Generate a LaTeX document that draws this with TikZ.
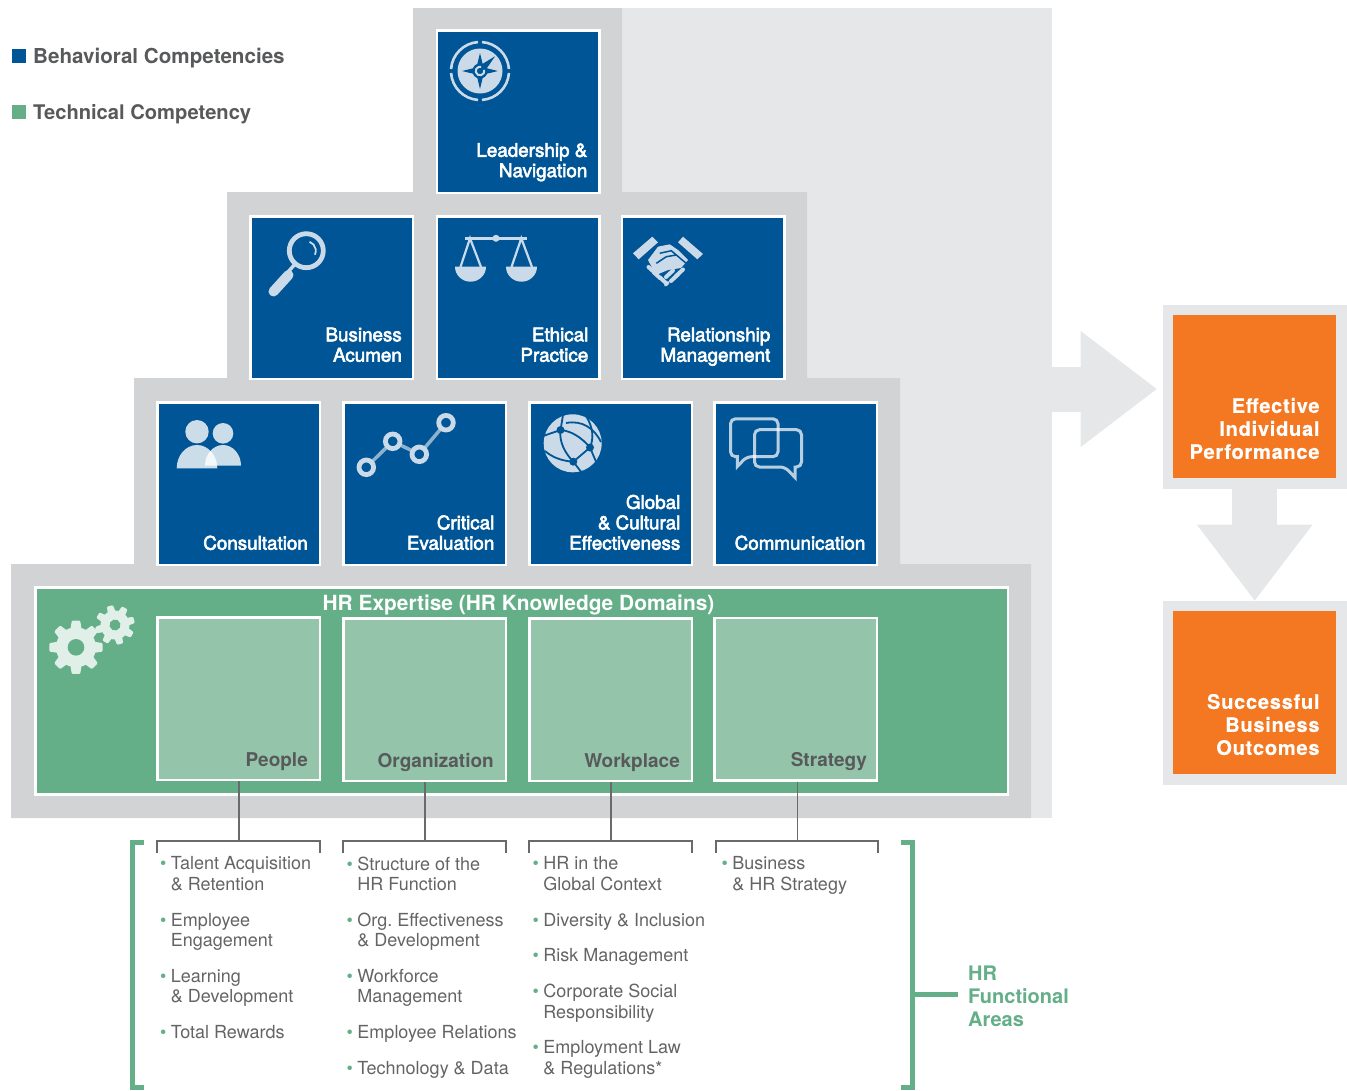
\documentclass[tikz,border=0pt]{standalone}
\usepackage{fontspec}
\setmainfont{TeX Gyre Heros}
\newfontfamily\tilefont[FakeBold=3]{TeX Gyre Heros}
\newfontfamily\heavyfont[FakeBold=0.3,LetterSpace=3.5]{TeX Gyre Heros Bold}
\usetikzlibrary{arrows.meta,positioning}
\definecolor{tileblue}{HTML}{005596}
\definecolor{hrgreen}{HTML}{64AE88}
\definecolor{palegreen}{HTML}{94C4AA}
\definecolor{pyramidgray}{HTML}{D1D3D4}
\definecolor{panelgray}{HTML}{E6E7E8}
\definecolor{resultorange}{HTML}{F47721}
\definecolor{labelgray}{HTML}{58595B}
\definecolor{listgray}{HTML}{636466}
\definecolor{icontint}{HTML}{CBDAE8}
\definecolor{geartint}{HTML}{E1EFE9}
\tikzset{tile node/.style={rectangle, draw=white, fill=tileblue, line width=2.5pt, minimum size=162.5pt, inner sep=0pt}}
\tikzset{domain node/.style={tile node, fill=palegreen}}
\tikzset{result node/.style={rectangle, draw=panelgray, fill=resultorange, line width=10.5pt, minimum size=173.5pt, inner sep=0pt}}
\tikzset{tile text/.style={anchor=south east, align=right, text=white, inner xsep=13pt, inner ysep=10pt,
    font=\tilefont\fontsize{18.8}{20.4}\selectfont, execute at end node=\strut}}
\tikzset{domain text/.style={tile text, text=labelgray, inner ysep=8.5pt, font=\bfseries\fontsize{19}{20.4}\selectfont}}
\tikzset{result text/.style={anchor=south east, align=right, text=white, inner xsep=27pt, inner ysep=22.5pt,
    font=\heavyfont\fontsize{20.1}{23}\selectfont, execute at end node=\strut}}
\tikzset{legend text/.style={anchor=west, inner sep=0pt, text=labelgray, font=\bfseries\fontsize{20.6}{22}\selectfont}}
\tikzset{area list/.style={anchor=north west, align=left, inner sep=0pt, text=listgray, font=\fontsize{18}{20.4}\selectfont}}
\tikzset{regular edge/.style={draw=labelgray!90, line width=1.4pt}}
\tikzset{bracket edge/.style={draw=hrgreen, line width=5pt}}
\tikzset{block edge/.style={draw=panelgray, line width=45pt, -{Triangle[length=76pt, width=116pt, line width=0pt]}}}
\newcommand{\areaitem}{\llap{\textcolor{hrgreen}{\textbullet}\hspace{4.5pt}}}
\newcommand{\gearicon}[6]{% x, y, outer, root, hole, turn
  \begin{scope}[shift={(#1,#2)}, rotate=#6]
    \fill [geartint] (0,0) circle [radius=#4];
    \foreach \a in {0,45,...,315}
      \fill [geartint, rounded corners=1pt] (\a-17:#4-1) -- (\a-9:#3) -- (\a+9:#3) -- (\a+17:#4-1) -- cycle;
    \fill [hrgreen] (0,0) circle [radius=#5];
  \end{scope}}

\begin{document}
\begin{tikzpicture}
      [x=1pt, y=-1pt]
      \useasboundingbox (0,0) rectangle (1347,1090);
      % backgrounds
      \fill [panelgray] (622,8) rectangle (1052,818);
      \fill [pyramidgray] (413,8) -- (622,8) -- (622,192) -- (807,192) -- (807,378) -- (900,378)
        -- (900,564) -- (1031,564) -- (1031,818) -- (11,818) -- (11,564) -- (134,564) -- (134,378)
        -- (227,378) -- (227,192) -- (413,192) -- cycle;
      \node [rectangle, draw=white, fill=hrgreen, line width=2.5pt, minimum width=972.5pt, minimum height=207pt] (expertise) at (521.5,691) {};

      % legend
      \node [fill=tileblue, minimum size=14pt, inner sep=0pt] (keyblue) at (19,56) {};
      \node [fill=hrgreen, minimum size=14pt, inner sep=0pt] (keygreen) at (19,112) {};
      \node [legend text] (keybluetext) at (33,57.7) {Behavioral Competencies};
      \node [legend text, font=\bfseries\fontsize{20.15}{22}\selectfont] (keygreentext) at (33,113.7) {Technical Competency};

      % behavioral tiles
      \node [tile node] (lead)    at (518,111.5) {};
      \node [tile node] (acumen)  at (331.5,297.5) {};
      \node [tile node] (ethics)  at (518,297.5) {};
      \node [tile node] (rel)     at (703,297.5) {};
      \node [tile node] (consult) at (238.5,483.5) {};
      \node [tile node] (critic)  at (424.5,483.5) {};
      \node [tile node] (global)  at (610.5,483.5) {};
      \node [tile node] (comm)    at (795.5,483.5) {};
      \node [tile text, inner ysep=10.5pt] (leadtext)    at (lead.south east) {Leadership \&\\Navigation};
      \node [tile text, inner xsep=12pt, inner ysep=12pt] (acumentext)  at (acumen.south east) {Business\\Acumen};
      \node [tile text, inner xsep=12pt, inner ysep=12pt] (ethicstext)  at (ethics.south east) {Ethical\\Practice};
      \node [tile text, inner xsep=15pt, inner ysep=12pt] (reltext)     at (rel.south east) {Relationship\\Management};
      \node [tile text] (consulttext) at (consult.south east) {Consultation};
      \node [tile text, inner xsep=12.5pt] (critictext)  at (critic.south east) {Critical\\Evaluation};
      \node [tile text, inner xsep=12.5pt] (globaltext)  at (global.south east) {Global\\\& Cultural\\Effectiveness};
      \node [tile text, inner xsep=12.5pt] (commtext)    at (comm.south east) {Communication};

      % expertise row
      \node [text=white, font=\bfseries\fontsize{20.9}{22}\selectfont, inner sep=0pt] (expertisetext) at (518.5,604.5) {HR Expertise (HR Knowledge Domains)};
      \node [domain node] (people)   at (238.5,698.5) {};
      \node [domain node] (org)      at (424.5,699.5) {};
      \node [domain node] (work)     at (610.5,699.5) {};
      \node [domain node] (strategy) at (795.5,699) {};
      \node [domain text] (peopletext)   at (people.south east) {People};
      \node [domain text] (orgtext)      at (org.south east) {Organization};
      \node [domain text] (worktext)     at (work.south east) {Workplace};
      \node [domain text, inner xsep=11pt] (strategytext) at (strategy.south east) {Strategy};

      % results
      \node [result node] (perform) at (1254.7,396.5) {};
      \node [result node] (outcome) at (1254.7,692.5) {};
      \node [result text] (performtext) at (perform.south east) {Effective\\Individual\\Performance};
      \node [result text] (outcometext) at (outcome.south east) {Successful\\Business\\Outcomes};
      \coordinate (panelexit) at (1052,389);
      \draw [block edge, shorten >=6pt] (panelexit) -- (perform.west |- panelexit);
      \draw [block edge] (perform.south) -- (outcome.north);

      % functional area trees
      \foreach \dom/\cx/\lx/\rx in {people/239/157/320, org/425/343/506, work/611/529/692, strategy/797.5/716/878} {
        \coordinate (\dom bar) at (\cx,841);
        \coordinate (\dom left) at (\lx,853);
        \coordinate (\dom right) at (\rx,853);
        \draw [regular edge] (\dom.south -| \dom bar) -- (\dom bar);
        \draw [regular edge] (\dom left) |- (\dom bar) -| (\dom right);
      }
      \node [area list] (peoplelist) at (170.7,856.5) {\areaitem Talent Acquisition\\\& Retention\\[15.4pt]\areaitem Employee\\Engagement\\[15.4pt]\areaitem Learning\\\& Development\\[15.4pt]\areaitem Total Rewards};
      \node [area list] (orglist) at (357.2,856.5) {\areaitem Structure of the\\HR Function\\[15.4pt]\areaitem Org.\ Effectiveness\\\& Development\\[15.4pt]\areaitem Workforce\\Management\\[15.4pt]\areaitem Employee Relations\\[15.4pt]\areaitem Technology \& Data};
      \node [area list] (worklist) at (543.2,856.5) {\areaitem HR in the\\Global Context\\[15.4pt]\areaitem Diversity \& Inclusion\\[15.4pt]\areaitem Risk Management\\[15.4pt]\areaitem Corporate Social\\Responsibility\\[15.4pt]\areaitem Employment Law\\\& Regulations*};
      \node [area list] (strategylist) at (732.2,856.5) {\areaitem Business\\\& HR Strategy};

      % green brackets
      \coordinate (bracketleft) at (144,842.5);
      \coordinate (bracketright) at (901,842.5);
      \coordinate (bracketlink) at (912.5,994.5);
      \node [anchor=west, align=left, inner sep=0pt, text=hrgreen, font=\bfseries\fontsize{20}{23}\selectfont] (areastext) at (968,996) {HR\\Functional\\Areas};
      \draw [bracket edge] (bracketleft) -- (132.5,842.5) -- (132.5,1087.5) -- (144,1087.5);
      \draw [bracket edge] (bracketright) -- (912.5,842.5) -- (912.5,1087.5) -- (901,1087.5);
      \draw [bracket edge, shorten >=10pt] (bracketlink) -- (areastext.west |- bracketlink);

      % compass
      \foreach \a in {0,90,180,270}
        \draw [icontint, line width=2.6pt] (480,71) ++(\a+4:29) arc [start angle=\a+4, end angle=\a+86, radius=29];
      \fill [icontint] (480,71) circle [radius=22.5];
      \fill [tileblue] (480,53) -- (483.5,67.5) -- (498,71) -- (483.5,74.5) -- (480,89) -- (476.5,74.5) -- (462,71) -- (476.5,67.5) -- cycle;
      \fill [tileblue] (495,56.3) -- (485,71) -- (479,66) -- cycle;
      \fill [tileblue] (480,71) circle [radius=7.6];
      \draw [icontint, line width=2pt] (480,71) ++(-15:4.3) arc [start angle=-15, end angle=285, radius=4.3];

      % magnifier
      \draw [icontint, line width=4.8pt] (306.3,250.7) circle [radius=17];
      \draw [icontint, line width=1.8pt] (306.3,250.7) ++(-70:9.5) arc [start angle=-70, end angle=25, radius=9.5];
      \draw [icontint, line width=3.5pt] (296,263) -- (288,272);
      \draw [icontint, line width=10pt, line cap=round] (288.5,275) -- (273.5,291.5);

      % scales
      \draw [icontint, line width=2.6pt] (465,238.3) -- (527,238.3);
      \fill [icontint] (496,238.3) circle [radius=3.5];
      \draw [icontint, line width=2.2pt] (460.5,267) -- (470,238.3) -- (481,267);
      \draw [icontint, line width=2.2pt] (511.5,267) -- (521.3,238.3) -- (532,267);
      \fill [icontint] (455,266.7) arc [start angle=180, end angle=0, x radius=15.5, y radius=15] -- cycle;
      \fill [icontint] (506,266.7) arc [start angle=180, end angle=0, x radius=15.5, y radius=15] -- cycle;

      % handshake
      \fill [icontint] (633,253.3) -- (652.3,236.7) -- (658,242.3) -- (638.7,259.3) -- cycle;
      \fill [icontint] (678,242.3) -- (683,236.7) -- (703,254) -- (697.3,259.3) -- cycle;
      \fill [icontint] (648,260) -- (658,246.7) -- (669.7,244.3) -- (678,250) -- (688,260) -- (681,268) -- (668,270) -- (656,275) -- cycle;
      \draw [tileblue, line width=1.5pt] (656.3,263.3) -- (666.3,256.7) -- (676.3,255) -- (671.3,250.7) -- (659.7,253.3);
      \draw [tileblue, line width=1.5pt] (676.3,255) -- (687,264);
      \foreach \x/\y in {648.5/267, 654/272.5, 660/277.5}
        \draw [icontint, line width=4pt, line cap=round] (\x,\y) -- ++(6,5.5);
      \foreach \x/\y in {666/277, 671/281, 676/276}
        \draw [icontint, line width=4pt, line cap=round] (\x,\y) -- ++(7,-6.5);
      \draw [icontint, line width=3.5pt, line cap=round] (665.5,285) -- ++(2.5,-2.5);

      % people
      \begin{scope}[opacity=0.8]
        \fill [white] (197,431.7) circle [radius=11.7];
        \fill [white] (223,433.3) circle [radius=10.3];
        \fill [white] (176.7,468.3) arc [start angle=180, end angle=360, x radius=20.3, y radius=23.3] -- cycle;
        \fill [white] (205,465.7) arc [start angle=180, end angle=360, x radius=18, y radius=20.7] -- cycle;
      \end{scope}

      % critical path
      \draw [white, opacity=0.55, line width=3.5pt] (366.3,467.3) -- (392.7,441.3) -- (419.3,454.3) -- (446,422.7);
      \foreach \x/\y in {366.3/467.3, 392.7/441.3, 419.3/454.3, 446/422.7} {
        \fill [tileblue] (\x,\y) circle [radius=7.3];
        \draw [icontint, line width=4.8pt] (\x,\y) circle [radius=7.3];
      }

      % globe
      \fill [icontint] (572.7,443.3) circle [radius=29];
      \draw [tileblue, line width=1.8pt] (543,436) -- (560.5,430) -- (563,415);
      \draw [tileblue, line width=1.8pt] (560.5,430) .. controls (572,431) and (582,438) .. (590,447.5) -- (573.3,461.7);
      \draw [tileblue, line width=1.8pt] (560.5,430) .. controls (559,442) and (565,453) .. (573.3,461.7) .. controls (563,461) and (553,458) .. (545,451);
      \draw [tileblue, line width=1.8pt] (573.3,461.7) -- (582,473);
      \draw [tileblue, line width=1.8pt] (586.7,417) .. controls (593,428) and (594,438) .. (590,447.5) -- (597,464);
      \draw [tileblue, line width=1.8pt] (566,423) .. controls (582,420) and (594,428) .. (601,442);
      \foreach \x/\y in {560.5/430, 590/447.5, 573.3/461.7}
        \fill [tileblue] (\x,\y) circle [radius=4];

      % speech bubbles
      \draw [white, opacity=0.72, line width=3pt, rounded corners=5pt] (746.7,456.7) [sharp corners] -- (737.3,466.5) -- (737.3,456.7) [rounded corners=5pt] -- (730.5,456.7) -- (730.5,418.8) -- (778,418.8) -- (778,456.7) -- cycle;
      \draw [white, opacity=0.72, line width=3pt, rounded corners=5pt] (785,467) [sharp corners] -- (795,477.5) -- (795,467) [rounded corners=5pt] -- (801.5,467) -- (801.5,429.7) -- (754.5,429.7) -- (754.5,467) -- cycle;

      % gears
      \gearicon{76}{647.3}{27}{20}{8.3}{0}
      \gearicon{115}{625}{20}{14.5}{5.5}{15}
    \end{tikzpicture}
\end{document}
